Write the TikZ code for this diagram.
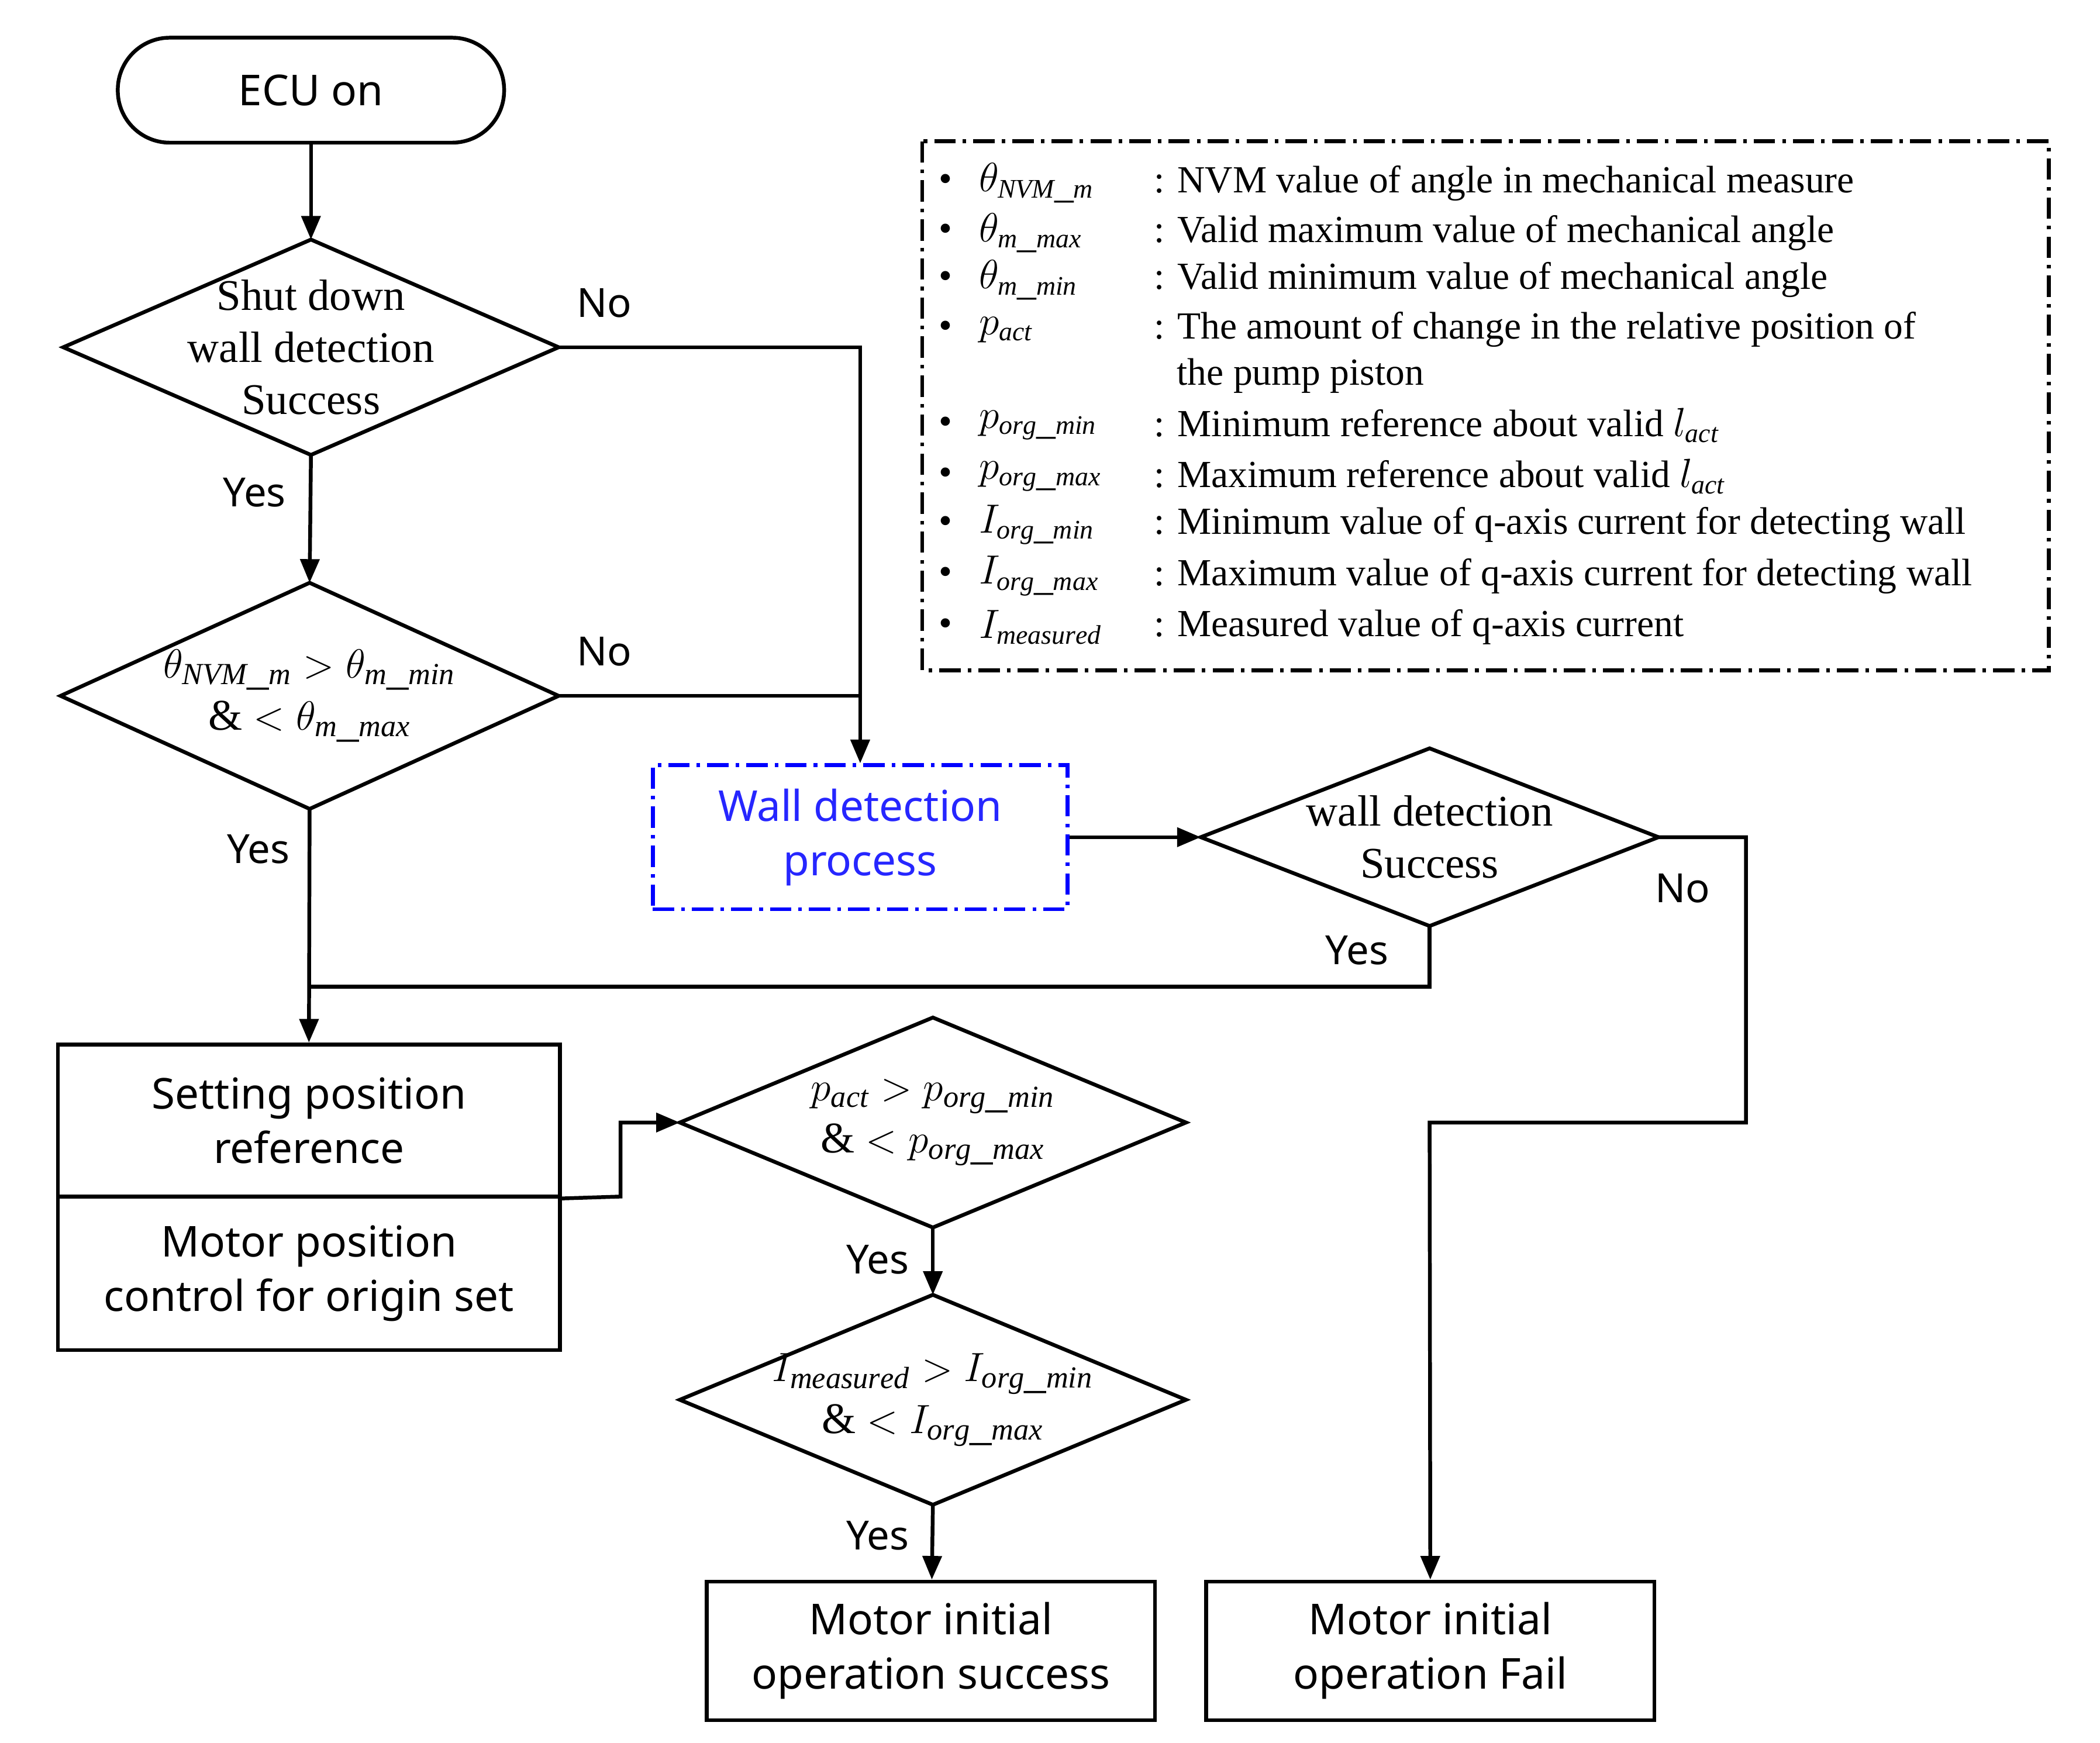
\documentclass[tikz,border=0pt]{standalone}
\usepackage{fontspec}
\setmainfont{Liberation Serif}
\newfontfamily\sansf{Noto Sans}
\usetikzlibrary{arrows.meta}
\begin{document}
\begin{tikzpicture}[x=0.02cm,y=-0.02cm,
  ln/.style={line width=1.6pt},
  ar/.style={ln,-{Triangle[length=10pt,width=8pt]}},
  dd/.style={dash pattern=on 9pt off 3pt on 1.5pt off 3pt},
  dt/.style={align=center,font=\fontsize{18.5}{22}\selectfont},
  bx/.style={draw,ln,align=center,font=\sansf\fontsize{18}{23}\selectfont},
  lab/.style={font=\sansf\fontsize{17}{20}\selectfont},
  lg/.style={anchor=west,font=\fontsize{16.2}{18}\selectfont,inner sep=0pt}]
\useasboundingbox (0,0) rectangle (1560,1295);
% diamond macro: name, cx, cy, half width, half height, text
\newcommand\mydia[6]{%
  \node[dt] (#1) at (#2,#3) {#6};
  \coordinate (#1n) at (#2,#3-#5); \coordinate (#1s) at (#2,#3+#5);
  \coordinate (#1e) at (#2+#4,#3); \coordinate (#1w) at (#2-#4,#3);
  \draw[ln,line join=miter] (#1n) -- (#1e) -- (#1s) -- (#1w) -- cycle;}
\node[bx,rounded corners=22pt,minimum width=287*0.02cm,minimum height=78*0.02cm] (ecu) at (231,67) {ECU on};
\mydia{d1}{231}{258}{184}{80}{Shut down\\wall detection\\Success}
\mydia{d2}{230}{517}{185}{84}{$\theta_{\mathit{NVM\_m}}>\theta_{\mathit{m\_min}}$\\$\&<\theta_{\mathit{m\_max}}$}
\node[bx,draw=blue,dd,text=blue!85!white,minimum width=308*0.02cm,minimum height=107*0.02cm] (wd) at (639,622) {Wall detection\\process};
\mydia{d3}{1062}{622}{170}{66}{wall detection\\Success}
\node[bx,minimum width=373*0.02cm,minimum height=113*0.02cm] (sp) at (229.5,832.5) {Setting position\\reference};
\node[bx,minimum width=373*0.02cm,minimum height=114*0.02cm] (mp) at (229.5,946) {Motor position\\control for origin set};
\mydia{d4}{693}{834}{188}{78}{$p_{\mathit{act}}>p_{\mathit{org\_min}}$\\$\&<p_{\mathit{org\_max}}$}
\mydia{d5}{693}{1040}{188}{78}{$I_{\mathit{measured}}>I_{\mathit{org\_min}}$\\$\&<I_{\mathit{org\_max}}$}
\node[bx,minimum width=333*0.02cm,minimum height=103*0.02cm] (ok) at (691.5,1226.5) {Motor initial\\operation success};
\node[bx,minimum width=333*0.02cm,minimum height=103*0.02cm] (fail) at (1062.5,1226.5) {Motor initial\\operation Fail};
% connectors
\draw[ar] (ecu) -- (d1n);
\draw[ar] (d1s) -- (d2n);
\draw[ar] (d1e) -| (wd.north);
\draw[ln] (d2e) -- (638,517);
\draw[ar] (wd) -- (d3w);
\draw[ar] (d2s) -- (sp.north);
\draw[ln] (d3s) |- (230,733);
\draw[ar] (d3e) -- (1297,622) -- (1297,834) -- (1062,834) -- (fail.north);
\draw[ar] (sp.south east) -- (461,889) |- (d4w);
\draw[ar] (d4s) -- (d5n);
\draw[ar] (d5s) -- (ok);
% labels
\node[lab] at (449,225) {No};
\node[lab] at (449,484) {No};
\node[lab] at (189,366) {Yes};
\node[lab] at (192,631) {Yes};
\node[lab] at (1250,660) {No};
\node[lab] at (1008,706) {Yes};
\node[lab] at (652,936) {Yes};
\node[lab] at (652,1141) {Yes};
% legend
\draw[line width=1.6pt,dd] (685,105) rectangle (1522,498);
\foreach \y/\s/\t in {
 136/{$\theta_{\mathit{NVM\_m}}$}/{: NVM value of angle in mechanical measure},
 173/{$\theta_{\mathit{m\_max}}$}/{: Valid maximum value of mechanical angle},
 208/{$\theta_{\mathit{m\_min}}$}/{: Valid minimum value of mechanical angle},
 245/{$p_{\mathit{act}}$}/{: The amount of change in the relative position of},
 316/{$p_{\mathit{org\_min}}$}/{: Minimum reference about valid $l_{\mathit{act}}$},
 354/{$p_{\mathit{org\_max}}$}/{: Maximum reference about valid $l_{\mathit{act}}$},
 390/{$I_{\mathit{org\_min}}$}/{: Minimum value of q-axis current for detecting wall},
 428/{$I_{\mathit{org\_max}}$}/{: Maximum value of q-axis current for detecting wall},
 466/{$I_{\mathit{measured}}$}/{: Measured value of q-axis current}}{
 \node[lg] at (697,\y) {\textbullet};
 \node[lg] at (727,\y) {\s};
 \node[lg] at (857,\y) {\t};
}
\node[lg] at (874,279) {the pump piston};
\end{tikzpicture}
\end{document}
